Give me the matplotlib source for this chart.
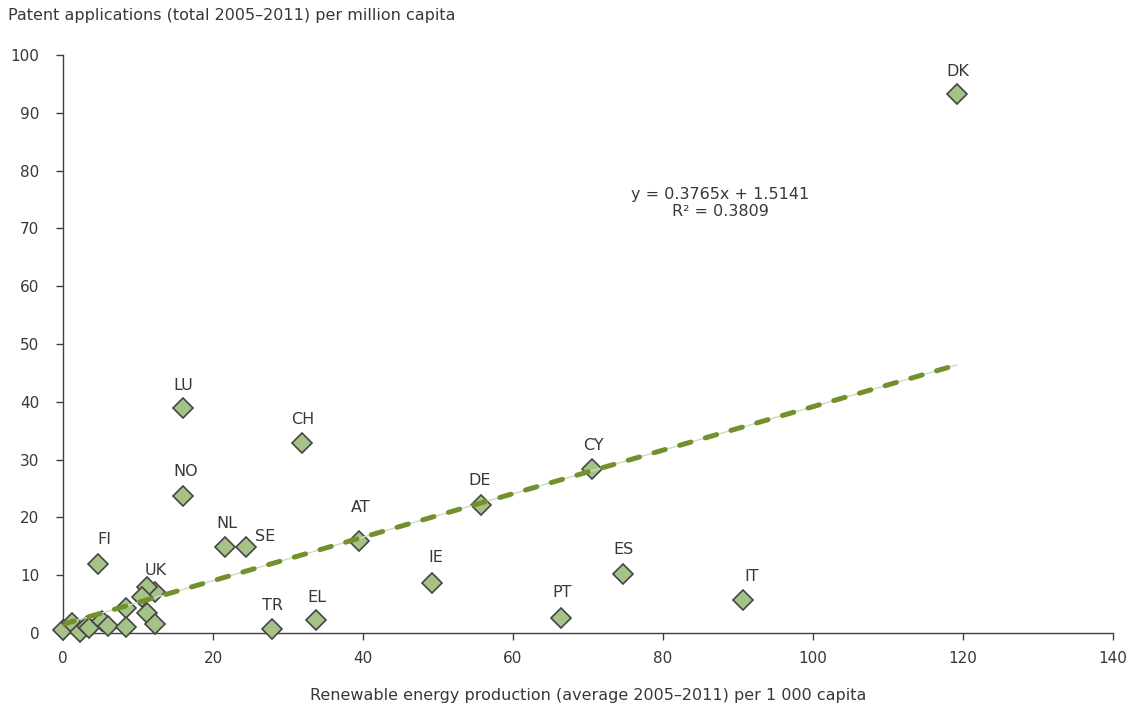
import matplotlib.pyplot as plt
import numpy as np

# renewable energy production per 1 000 capita (x) vs patent applications per million capita (y)
countries = ['DK', 'LU', 'CH', 'NO', 'CY', 'DE', 'AT', 'FI', 'NL', 'SE',
             'IE', 'ES', 'IT', 'PT', 'TR', 'EL', 'UK',
             '', '', '', '', '', '', '', '', '', '', '', '', '']
energy = [119.2, 16.0, 31.9, 16.0, 70.5, 55.7, 39.5, 4.6, 21.6, 24.4,
          49.2, 74.7, 90.7, 66.4, 27.8, 33.7, 12.3,
          0.0, 1.2, 2.3, 3.2, 3.4, 5.2, 6.0, 8.4, 8.4, 11.2, 10.5, 11.2, 12.3]
patents = [93.3, 38.9, 32.9, 23.7, 28.4, 22.1, 15.9, 11.9, 14.8, 14.8,
           8.7, 10.2, 5.7, 2.6, 0.7, 2.2, 7.1,
           0.5, 1.8, 0.2, 1.2, 0.8, 2.0, 1.2, 4.4, 1.0, 8.0, 6.2, 3.4, 1.6]

slope = 0.3765
intercept = 1.5141
r2 = 0.3809

# where each country code sits relative to its marker (pixels)
label_offsets = {'DK': (1, 22), 'LU': (0, 23), 'CH': (0, 23), 'NO': (3, 24),
                 'CY': (2, 23), 'DE': (-1, 25), 'AT': (1, 34), 'FI': (7, 25),
                 'NL': (2, 24), 'SE': (19, 11), 'IE': (4, 25), 'ES': (0, 25),
                 'IT': (8, 24), 'PT': (1, 25), 'TR': (1, 23), 'EL': (1, 23),
                 'UK': (0, 21)}

txt = '#383838'
fs = 11.5
plt.rcParams['font.family'] = ['DejaVu Sans']

fig = plt.figure(figsize=(11.3, 7.1), dpi=100)
ax = fig.add_axes([0.0558, 0.1085, 0.9292, 0.814])

ax.plot(energy, patents, linestyle='none', marker='D', markersize=10,
        markerfacecolor='#a5c387', markeredgecolor='#454545',
        markeredgewidth=1.2, clip_on=False, zorder=3)

xs = np.array([min(energy), max(energy)])
ys = slope * xs + intercept
ax.plot(xs, ys, color='#d4d9c6', linewidth=1, zorder=4)
ax.plot(xs, ys, color='#72902b', linewidth=3.6, dashes=(2.35, 3.0),
        dash_capstyle='round', zorder=5)

ax.text(87.6, 74.4, 'y = %.4fx + %.4f\nR² = %.4f' % (slope, intercept, r2),
        ha='center', va='center', multialignment='center', color=txt,
        fontsize=fs, linespacing=1.2)

for name, x, y in zip(countries, energy, patents):
    if not name:
        continue
    dx, dy = label_offsets[name]
    ax.annotate(name, (x, y), xytext=(dx, dy), textcoords='offset pixels',
                ha='center', va='center', color=txt, fontsize=fs)

ax.set_xlim(0, 140)
ax.set_ylim(0, 100)
ax.set_xticks(range(0, 141, 20))
ax.set_yticks(range(0, 101, 10))
for side in ('top', 'right'):
    ax.spines[side].set_visible(False)
for side in ('left', 'bottom'):
    ax.spines[side].set_color('#404040')
    ax.spines[side].set_linewidth(1)
ax.tick_params(colors='#404040', labelcolor=txt, length=5, width=1,
               labelsize=11)
ax.tick_params(axis='x', pad=8)
ax.tick_params(axis='y', pad=12)

ax.set_xlabel('Renewable energy production (average 2005\u20132011) per 1 000 capita',
              color=txt, fontsize=fs, labelpad=16)
fig.text(0.007, 0.978, 'Patent applications (total 2005\u20132011) per million capita',
         color=txt, fontsize=fs, ha='left', va='center')

fig.savefig('out.png', dpi=100)
